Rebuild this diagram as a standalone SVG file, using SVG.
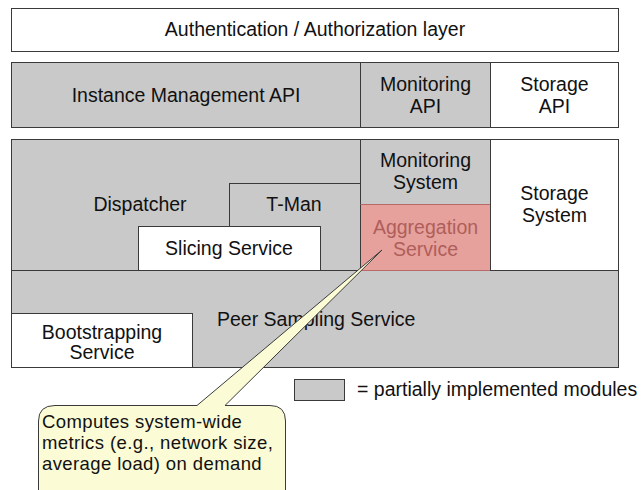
<svg xmlns="http://www.w3.org/2000/svg" width="642" height="490" viewBox="0 0 642 490">
  <defs>
    <style>
      .box { stroke: #3a3a3a; stroke-width: 1; }
      .grey { fill: #c9c9c9; }
      .white { fill: #ffffff; }
      .agg { fill: #e6a19d; stroke: #b86a66; stroke-width: 1; }
      .lbl { font-family: "Liberation Sans", Arial, Helvetica, sans-serif; font-size: 19.5px; fill: #111; }
      .mid { text-anchor: middle; }
      .aggtxt { fill: #b05e5a; }
      .note { fill: #fbfbd6; stroke: #3a3a3a; stroke-width: 1; }
      .notetxt { font-size: 18.5px; letter-spacing: 0.4px; }
    </style>
  </defs>

  <rect width="642" height="490" fill="#ffffff"/>

  <!-- top layer -->
  <g id="auth">
    <rect class="box white" x="11.5" y="8.5" width="607" height="43"/>
    <text class="lbl mid" x="315" y="36">Authentication / Authorization layer</text>
  </g>

  <!-- API layer -->
  <g id="instance-api">
    <rect class="box grey" x="11.5" y="62.5" width="349" height="65"/>
    <text class="lbl mid" x="186" y="102">Instance Management API</text>
  </g>
  <g id="monitoring-api">
    <rect class="box grey" x="360.5" y="62.5" width="130" height="65"/>
    <text class="lbl mid" x="425.5" y="91">Monitoring</text>
    <text class="lbl mid" x="425.5" y="113">API</text>
  </g>
  <g id="storage-api">
    <rect class="box white" x="490.5" y="62.5" width="128" height="65"/>
    <text class="lbl mid" x="554.5" y="91">Storage</text>
    <text class="lbl mid" x="554.5" y="113">API</text>
  </g>

  <!-- services layer -->
  <g id="dispatcher">
    <rect class="box grey" x="11.5" y="139.5" width="349" height="131"/>
    <text class="lbl mid" x="140" y="211">Dispatcher</text>
  </g>
  <g id="peer-sampling">
    <rect class="box grey" x="11.5" y="270.5" width="607" height="97"/>
    <text class="lbl" x="217" y="325.5">Peer Sampling Service</text>
  </g>
  <g id="tman">
    <rect class="box grey" x="229.5" y="183.5" width="131" height="87"/>
    <text class="lbl mid" x="294" y="211">T-Man</text>
  </g>
  <g id="slicing">
    <rect class="box white" x="138.5" y="226.5" width="182" height="44"/>
    <text class="lbl mid" x="229" y="254.5">Slicing Service</text>
  </g>
  <g id="monitoring-system">
    <rect class="box grey" x="360.5" y="139.5" width="130" height="65"/>
    <text class="lbl mid" x="425.5" y="167">Monitoring</text>
    <text class="lbl mid" x="425.5" y="189">System</text>
  </g>
  <g id="aggregation">
    <rect class="agg" x="360.5" y="204.5" width="130" height="66"/>
    <line x1="360.5" y1="204.5" x2="360.5" y2="270.5" stroke="#3a3a3a"/>
    <text class="lbl mid aggtxt" x="425.5" y="233.5">Aggregation</text>
    <text class="lbl mid aggtxt" x="425.5" y="255.5">Service</text>
  </g>
  <g id="storage-system">
    <rect class="box white" x="490.5" y="139.5" width="128" height="131"/>
    <text class="lbl mid" x="554.5" y="200">Storage</text>
    <text class="lbl mid" x="554.5" y="221.5">System</text>
  </g>
  <g id="bootstrapping">
    <rect class="box white" x="11.5" y="313.5" width="181" height="54"/>
    <text class="lbl mid" x="102" y="338.5">Bootstrapping</text>
    <text class="lbl mid" x="102" y="359">Service</text>
  </g>

  <!-- legend -->
  <g id="legend">
    <rect class="box grey" x="294.5" y="379.5" width="50" height="21"/>
    <text class="lbl" x="357" y="396">= partially implemented modules</text>
  </g>

  <!-- callout with pointer into the aggregation service -->
  <g id="connectors">
    <path class="note" d="M 55 405.5 L 197 405.5 L 382 250 L 225 405.5 L 270 405.5 Q 285.5 405.5 285.5 421 L 285.5 500 L 38.5 500 L 38.5 421 Q 38.5 405.5 55 405.5 Z"/>
  </g>
  <g id="callout">
    <text class="lbl notetxt" x="42" y="427.5">Computes system-wide</text>
    <text class="lbl notetxt" x="42" y="448.5">metrics (e.g., network size,</text>
    <text class="lbl notetxt" x="42" y="469.5">average load) on demand</text>
  </g>
</svg>
